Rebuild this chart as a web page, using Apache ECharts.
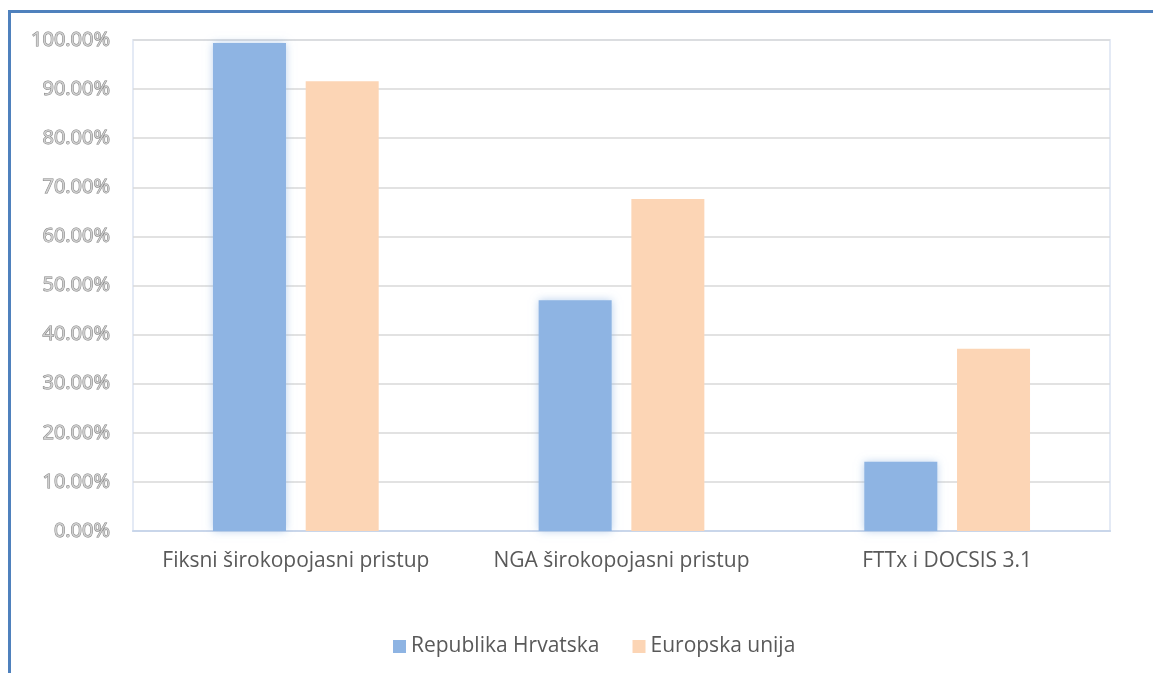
<!DOCTYPE html>
<html>
<head>
<meta charset="utf-8">
<script src="https://cdn.jsdelivr.net/npm/echarts@6/dist/echarts.min.js"></script>
<style>
  html, body { margin: 0; padding: 0; background: #fff; }
  #frame {
    position: absolute; left: 8px; top: 10px; width: 1160px; height: 680px;
    border-left: 3px solid #4f81bd; border-top: 3px solid #4f81bd;
  }
  #chart { position: absolute; left: 0; top: 0; width: 1153px; height: 673px; }
</style>
</head>
<body>
<div id="frame"></div>
<div id="chart"></div>
<script>
const categories = ['Fiksni širokopojasni pristup', 'NGA širokopojasni pristup', 'FTTx i DOCSIS 3.1']
const seriesNames = ['Republika Hrvatska', 'Europska unija']
const hrvatska = [0.994, 0.470, 0.141]
const europa = [0.916, 0.676, 0.371]

const chart = echarts.init(document.getElementById('chart'))
chart.setOption({
  animation: false,
  color: ['#8eb4e3', '#fcd5b5'],
  textStyle: { fontFamily: '"Open Sans", sans-serif' },
  grid: {
    left: 133,
    right: 43,
    top: 40,
    bottom: 142,
    show: true,
    borderColor: '#e4eaf5',
    borderWidth: 2
  },
  legend: {
    data: seriesNames,
    bottom: 11,
    left: 388,
    itemWidth: 13,
    itemHeight: 13,
    itemGap: 33,
    icon: 'rect',
    textStyle: { fontSize: 21, color: '#595959', fontFamily: '"Open Sans", sans-serif' }
  },
  xAxis: {
    type: 'category',
    data: categories,
    axisLine: { lineStyle: { color: '#c9d6ea', width: 2 } },
    axisTick: { show: false },
    axisLabel: { interval: 0, margin: 20, fontSize: 21, color: '#595959' }
  },
  yAxis: {
    type: 'value',
    min: 0,
    max: 1,
    interval: 0.1,
    axisLine: { show: false },
    axisTick: { show: false },
    splitLine: { lineStyle: { color: '#d9d9d9', width: 1.5 } },
    axisLabel: {
      margin: 23,
      fontSize: 20,
      color: '#d0d0d0',
      textBorderColor: '#808080',
      textBorderWidth: 1,
      formatter: v => (v * 100).toFixed(2) + '%'
    }
  },
  series: [{
    name: seriesNames[0],
    type: 'bar',
    data: hrvatska,
    barWidth: 73,
    barGap: '27%',
    itemStyle: { shadowBlur: 8, shadowColor: 'rgba(142,180,227,0.6)' }
  }, {
    name: seriesNames[1],
    type: 'bar',
    data: europa,
    barWidth: 73,
    barGap: '27%'
  }]
})
</script>
</body>
</html>
